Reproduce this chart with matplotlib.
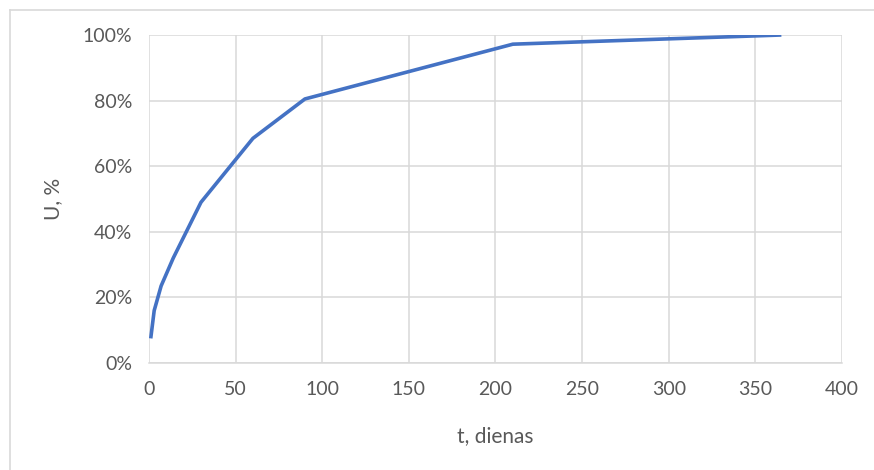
import matplotlib
matplotlib.use("Agg")
import matplotlib.pyplot as plt
from matplotlib.lines import Line2D
from matplotlib.ticker import FuncFormatter

# Consolidation degree over time
t_days = [1, 3, 7, 14, 30, 60, 90, 210, 365]
u_percent = [7.5, 16, 23.5, 32, 49, 68.5, 80.5, 97.2, 100]

x_ticks = [0, 50, 100, 150, 200, 250, 300, 350, 400]
y_ticks = [0, 20, 40, 60, 80, 100]

x_label = "t, dienas"
y_label = "U, %"

plt.rcParams["font.family"] = ["Lato", "DejaVu Sans"]
text_color = "#595959"
grid_color = "#d9d9d9"

fig = plt.figure(figsize=(8.74, 4.70), dpi=100)
ax = fig.add_axes([149 / 874, 1 - 363 / 470, (842 - 149) / 874, (363 - 35) / 470])

ax.plot(t_days, u_percent, color="#4472C4", lw=2.6, solid_capstyle="butt",
        solid_joinstyle="round", zorder=3)

ax.set_xlim(x_ticks[0], x_ticks[-1])
ax.set_ylim(y_ticks[0], y_ticks[-1])
ax.set_xticks(x_ticks)
ax.set_yticks(y_ticks)
ax.yaxis.set_major_formatter(FuncFormatter(lambda v, _: f"{v:.0f}%"))

ax.grid(True, color=grid_color, lw=1.1, zorder=0)
ax.set_axisbelow(True)
for side in ("top", "right", "left"):
    ax.spines[side].set_visible(False)
ax.spines["bottom"].set_color(grid_color)
ax.spines["bottom"].set_linewidth(1.1)

ax.tick_params(axis="both", length=0, labelsize=14, labelcolor=text_color)
ax.tick_params(axis="x", pad=13)
ax.tick_params(axis="y", pad=12)

ax.set_xlabel(x_label, fontsize=15, color=text_color, labelpad=20)
ax.set_ylabel(y_label, fontsize=15, color=text_color, labelpad=14)

# Chart area border (top and left edges)
fig.add_artist(Line2D([10 / 874, 1], [1 - 10 / 470, 1 - 10 / 470],
                      transform=fig.transFigure, color="#d9d9d9", lw=1.2))
fig.add_artist(Line2D([10 / 874, 10 / 874], [0, 1 - 10 / 470],
                      transform=fig.transFigure, color="#d9d9d9", lw=1.2))

fig.savefig("out.png", dpi=100)
